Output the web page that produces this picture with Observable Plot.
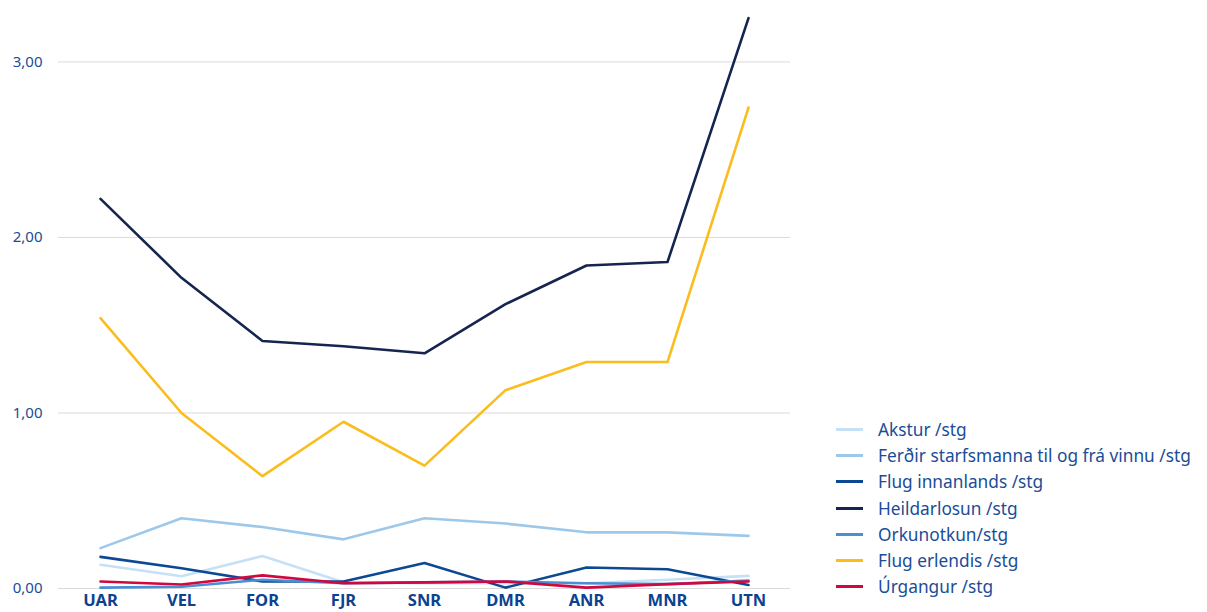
<!DOCTYPE html>
<html>
<head>
<meta charset="utf-8">
<script src="https://cdn.jsdelivr.net/npm/d3@7"></script>
<script src="https://cdn.jsdelivr.net/npm/@observablehq/plot@0.6"></script>
<style>
  html, body { margin: 0; padding: 0; background: #fff; }
  body { width: 1207px; height: 612px; position: relative; overflow: hidden; font-family: "Noto Sans", sans-serif; }
  #chart { position: absolute; left: 0; top: 0; }
  #legend { position: absolute; left: 836px; top: 416px; color: #1a4d97; font-size: 17.3px; }
  .row { display: flex; align-items: center; height: 26.3px; white-space: nowrap; }
  .sw { width: 27px; height: 3px; margin-right: 15px; }
</style>
</head>
<body>
<div id="chart"></div>
<div id="legend"></div>
<script>
const categories = ["UAR", "VEL", "FOR", "FJR", "SNR", "DMR", "ANR", "MNR", "UTN"];
const seriesNames = ["Akstur /stg", "Ferðir starfsmanna til og frá vinnu /stg", "Flug innanlands /stg", "Heildarlosun /stg", "Orkunotkun/stg", "Flug erlendis /stg", "Úrgangur /stg"];
const seriesColors = ["#c6e0f6", "#9ec8ea", "#0c4992", "#15254f", "#4a8ed3", "#fbbd1e", "#d1083f"];
const akstur = [0.135, 0.07, 0.185, 0.035, 0.03, 0.03, 0.03, 0.05, 0.072];
const ferdir = [0.23, 0.40, 0.35, 0.28, 0.40, 0.37, 0.32, 0.32, 0.30];
const flugInnanlands = [0.18, 0.115, 0.04, 0.04, 0.145, 0.005, 0.12, 0.11, 0.02];
const heildarlosun = [2.22, 1.77, 1.41, 1.38, 1.34, 1.62, 1.84, 1.86, 3.25];
const orkunotkun = [0.005, 0.01, 0.05, 0.03, 0.035, 0.04, 0.03, 0.025, 0.045];
const flugErlendis = [1.54, 1.00, 0.64, 0.95, 0.70, 1.13, 1.29, 1.29, 2.74];
const urgangur = [0.04, 0.023, 0.075, 0.03, 0.035, 0.04, 0.005, 0.025, 0.04];
const yTicks = [0, 1, 2, 3];

const seriesValues = [akstur, ferdir, flugInnanlands, heildarlosun, orkunotkun, flugErlendis, urgangur];
const data = [];
seriesNames.forEach((s, i) => {
  categories.forEach((c, j) => data.push({series: s, cat: c, value: seriesValues[i][j]}));
});

const fmt = v => d3.format(".2f")(v).replace(".", ",");

const chart = Plot.plot({
  width: 800,
  height: 612,
  marginLeft: 58,
  marginRight: 10,
  marginTop: 10,
  marginBottom: 24,
  style: {fontFamily: "Noto Sans, sans-serif", background: "#fff"},
  x: {type: "point", domain: categories, padding: 0.5, label: null},
  y: {domain: [0, 3.293], label: null},
  color: {domain: seriesNames, range: seriesColors},
  marks: [
    Plot.ruleY(yTicks, {stroke: "#dadada", strokeWidth: 1}),
    Plot.axisY({ticks: yTicks, tickFormat: fmt, tickSize: 0, tickPadding: 16, fontSize: 15, fill: "#1a4d97", label: null}),
    Plot.axisX({tickSize: 0, tickPadding: 6, fontSize: 16.5, fontWeight: "bold", fill: "#0c4290", label: null}),
    Plot.line(data, {x: "cat", y: "value", z: "series", stroke: "series", strokeWidth: 2.6, curve: "linear"})
  ]
});
document.getElementById("chart").appendChild(chart);

const legend = document.getElementById("legend");
seriesNames.forEach((s, i) => {
  const row = document.createElement("div");
  row.className = "row";
  const sw = document.createElement("div");
  sw.className = "sw";
  sw.style.background = seriesColors[i];
  const t = document.createElement("span");
  t.textContent = s;
  row.appendChild(sw);
  row.appendChild(t);
  legend.appendChild(row);
});
</script>
</body>
</html>
